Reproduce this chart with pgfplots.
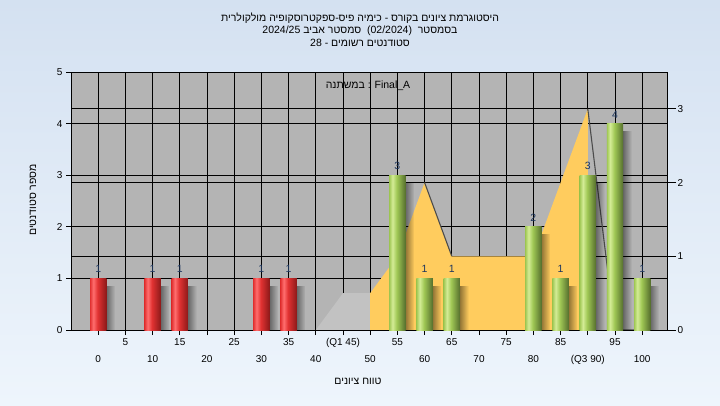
\documentclass[border=0pt]{standalone}
\usepackage{pgfplots}
\pgfplotsset{compat=1.18}
\usepackage{fontspec}
\setmainfont{Liberation Sans}
\newfontfamily\heb[Script=Hebrew]{Liberation Sans}
\TeXXeTstate=1
\usetikzlibrary{fadings}
\definecolor{plotgray}{RGB}{180,180,180}
\definecolor{areagray}{RGB}{194,194,194}
\definecolor{areayellow}{RGB}{255,204,94}
\definecolor{bgtop}{RGB}{212,225,241}
\definecolor{bgbot}{RGB}{238,245,252}
\definecolor{lbl}{RGB}{30,55,95}
\definecolor{redA}{RGB}{225,50,50}
\definecolor{redB}{RGB}{255,110,110}
\definecolor{redC}{RGB}{140,25,25}
\definecolor{grnA}{RGB}{160,200,85}
\definecolor{grnB}{RGB}{212,236,150}
\definecolor{grnC}{RGB}{85,110,45}
\pgfdeclarehorizontalshading{redbar}{100bp}{color(0bp)=(redA); color(25bp)=(redA); color(35bp)=(redB); color(48bp)=(redA); color(75bp)=(redC); color(100bp)=(redC)}
\pgfdeclarehorizontalshading{grnbar}{100bp}{color(0bp)=(grnA); color(25bp)=(grnA); color(35bp)=(grnB); color(48bp)=(grnA); color(75bp)=(grnC); color(100bp)=(grnC)}
\tikzfading[name=fadeR, left color=transparent!0, right color=transparent!100]
\pgfplotsset{
  shadowbar/.style={ybar, bar shift=0pt, bar width=3.2, draw=none, fill=black, fill opacity=0.85, path fading=fadeR, forget plot},
  redbar/.style={ybar, bar shift=0pt, bar width=3, draw=none, shading=redbar, shade,
    nodes near coords, nodes near coords style={font=\fontsize{10.5}{12}\selectfont, text=lbl, yshift=2pt}},
  grnbar/.style={ybar, bar shift=0pt, bar width=3, draw=none, shading=grnbar, shade,
    nodes near coords, nodes near coords style={font=\fontsize{10.5}{12}\selectfont, text=lbl, yshift=2pt}},
}
\begin{document}
\begin{tikzpicture}[x=1pt,y=1pt]
\shade[top color=bgtop, bottom color=bgbot] (0,0) rectangle (720,405);
% right axis: background, grid, areas
\begin{axis}[
  at={(71pt,75pt)}, anchor=south west, scale only axis,
  width=596pt, height=258pt,
  xmin=-5, xmax=104.56, ymin=0, ymax=3.5,
  axis background/.style={fill=plotgray},
  xtick={0,5,...,100}, xticklabels={}, xmajorgrids, xtick style={draw=none},
  ytick={0,1,2,3}, ytick pos=right, yticklabel pos=right, ymajorgrids,
  tick align=outside, major tick length=9pt,
  extra y ticks={0.7,1.4,2.1,2.8}, extra y tick labels={},
  extra y tick style={grid=major, tick style={draw=none}},
  grid style={black, line width=0.8pt},
  axis line style={black, line width=0.8pt},
  tick style={black, line width=0.8pt},
  ticklabel style={font=\fontsize{10}{12}\selectfont, text=black},
  yticklabel style={xshift=-2pt},
  /pgf/number format/assume math mode=true,
]
\addplot[fill=areagray, draw=none] coordinates {(40,0)(45,0.5)(50,0.5)(50,0)} --cycle;
\addplot[fill=areayellow, draw=none] coordinates {(50,0)(50,0.5)(55,1)(60,2)(65,1)(70,1)(75,1)(80,1)(85,2)(90,3)(90,0)} --cycle;
\addplot[draw=black!70, line width=1.1pt] coordinates {(60,2)(65,1)};
\addplot[draw=black!70, line width=1.1pt] coordinates {(90,3)(95,0)(100,0)};
\end{axis}
% left axis: bars
\begin{axis}[
  at={(71pt,75pt)}, anchor=south west, scale only axis,
  width=596pt, height=258pt,
  xmin=-5, xmax=104.56, ymin=0, ymax=5,
  ytick={0,...,5}, ytick pos=left,
  xtick={5,15,...,95}, xticklabels={5,15,25,35,(Q1 45),55,65,75,85,95},
  xtick pos=bottom,
  extra x ticks={0,10,...,100},
  extra x tick labels={0,10,20,30,40,50,60,70,80,(Q3 90),100},
  extra x tick style={xticklabel style={yshift=-17pt}},
  tick align=outside, major tick length=5pt,
  tick style={black, line width=0.8pt},
  axis line style={black, line width=0.8pt},
  ticklabel style={font=\fontsize{10}{12}\selectfont, text=black},
  /pgf/number format/assume math mode=true,
]
% shadows
\addplot[shadowbar] coordinates {(1.5,0.86)};
\addplot[shadowbar] coordinates {(11.5,0.86)};
\addplot[shadowbar] coordinates {(16.5,0.86)};
\addplot[shadowbar] coordinates {(31.5,0.86)};
\addplot[shadowbar] coordinates {(36.5,0.86)};
\addplot[shadowbar] coordinates {(56.5,2.86)};
\addplot[shadowbar] coordinates {(61.5,0.86)};
\addplot[shadowbar] coordinates {(66.5,0.86)};
\addplot[shadowbar] coordinates {(81.5,1.86)};
\addplot[shadowbar] coordinates {(86.5,0.86)};
\addplot[shadowbar] coordinates {(91.5,2.86)};
\addplot[shadowbar] coordinates {(96.5,3.86)};
\addplot[shadowbar] coordinates {(101.5,0.86)};
% red bars
\addplot[redbar] coordinates {(0,1)};
\addplot[redbar] coordinates {(10,1)};
\addplot[redbar] coordinates {(15,1)};
\addplot[redbar] coordinates {(30,1)};
\addplot[redbar] coordinates {(35,1)};
% green bars
\addplot[grnbar] coordinates {(55,3)};
\addplot[grnbar] coordinates {(60,1)};
\addplot[grnbar] coordinates {(65,1)};
\addplot[grnbar] coordinates {(80,2)};
\addplot[grnbar] coordinates {(85,1)};
\addplot[grnbar] coordinates {(90,3)};
\addplot[grnbar] coordinates {(95,4)};
\addplot[grnbar] coordinates {(100,1)};
\end{axis}
% titles and labels
\node[font=\heb\fontsize{10.5}{12}\selectfont] at (360,387) {\beginR היסטוגרמת ציונים בקורס - כימיה פיס-ספקטרוסקופיה מולקולרית\endR};
\node[font=\heb\fontsize{10.5}{12}\selectfont] at (360,374.5) {\beginR בסמסטר\ \ \beginL(02/2024)\endL{}\ \ סמסטר אביב \beginL 2024/25\endL\endR};
\node[font=\heb\fontsize{10.5}{12}\selectfont] at (360,362) {\beginR סטודנטים רשומים - \beginL 28\endL\endR};
\node[font=\heb\fontsize{10.5}{12}\selectfont] at (368,319) {\beginR במשתנה\endR{} : Final\_A};
\node[font=\heb\fontsize{10.5}{12}\selectfont, rotate=90] at (33,205) {\beginR מספר סטודנטים\endR};
\node[font=\heb\fontsize{10.5}{12}\selectfont] at (358,24) {\beginR טווח ציונים\endR};
\pgfresetboundingbox
\useasboundingbox (0,0) rectangle (720,405);
\end{tikzpicture}
\end{document}
